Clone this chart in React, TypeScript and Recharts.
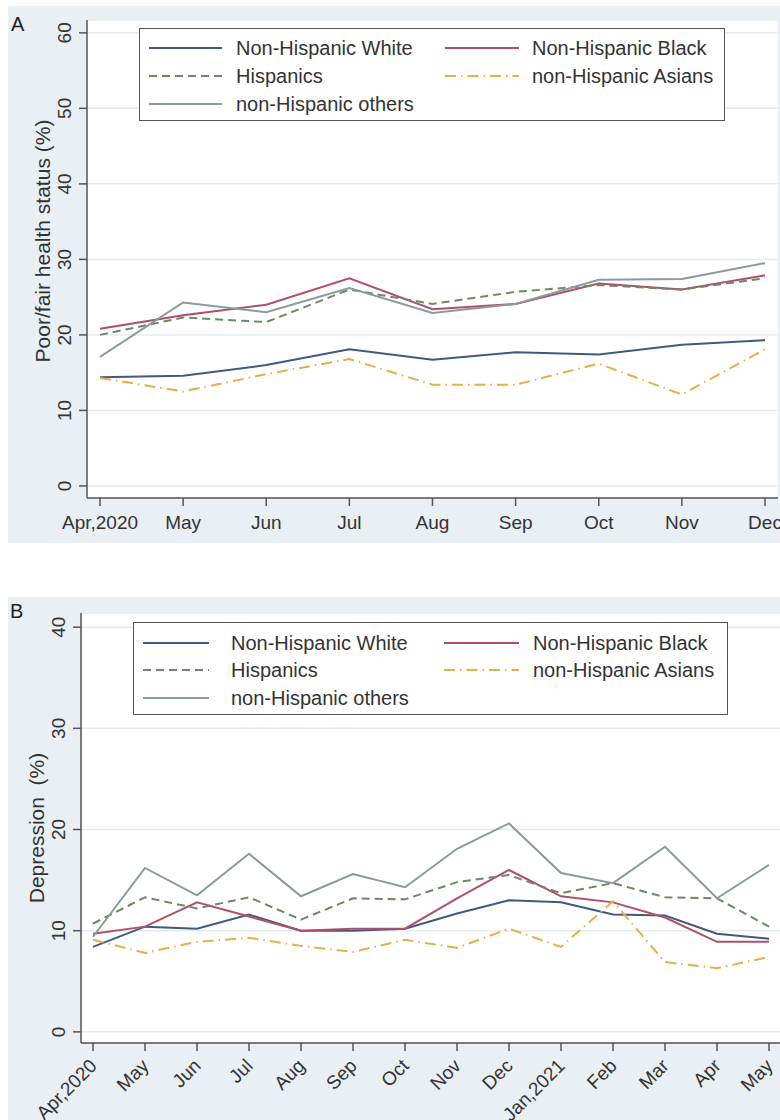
import React from 'react';
import { LineChart, Line, XAxis, YAxis, CartesianGrid, Legend } from 'recharts';

const FONT = '"Liberation Sans", Arial, Helvetica, sans-serif';
const TEXT = '#333';
const PANEL_BG = '#e9eff2';
const GRID = '#e4ebee';
const AXIS = '#555';

// Panel A: poor/fair self-rated health, Apr–Dec 2020
const monthsA = ['Apr,2020', 'May', 'Jun', 'Jul', 'Aug', 'Sep', 'Oct', 'Nov', 'Dec'];
const whiteA = [14.4, 14.6, 16.0, 18.1, 16.7, 17.7, 17.4, 18.7, 19.3];
const blackA = [20.8, 22.6, 24.0, 27.5, 23.4, 24.1, 26.8, 26.0, 27.9];
const hispA = [20.0, 22.3, 21.7, 26.0, 24.1, 25.7, 26.6, 26.0, 27.5];
const asianA = [14.3, 12.5, 14.8, 16.8, 13.4, 13.4, 16.2, 12.1, 18.1];
const othersA = [17.1, 24.3, 23.0, 26.2, 22.9, 24.1, 27.3, 27.4, 29.5];
const ticksA = [0, 10, 20, 30, 40, 50, 60];

// Panel B: depression, Apr 2020 – May 2021
const monthsB = ['Apr,2020', 'May', 'Jun', 'Jul', 'Aug', 'Sep', 'Oct', 'Nov', 'Dec', 'Jan,2021', 'Feb', 'Mar', 'Apr', 'May'];
const whiteB = [8.4, 10.4, 10.2, 11.6, 10.0, 10.0, 10.2, 11.7, 13.0, 12.8, 11.6, 11.5, 9.7, 9.2];
const blackB = [9.7, 10.4, 12.8, 11.4, 10.0, 10.2, 10.2, 13.2, 16.0, 13.4, 12.8, 11.3, 8.9, 8.9];
const hispB = [10.7, 13.3, 12.2, 13.3, 11.1, 13.2, 13.1, 14.8, 15.5, 13.7, 14.7, 13.3, 13.2, 10.4];
const asianB = [9.1, 7.8, 8.9, 9.3, 8.5, 7.9, 9.1, 8.3, 10.2, 8.4, 12.9, 6.9, 6.3, 7.4];
const othersB = [9.4, 16.2, 13.5, 17.6, 13.4, 15.6, 14.3, 18.1, 20.6, 15.7, 14.7, 18.3, 13.2, 16.5];
const ticksB = [0, 10, 20, 30, 40];

const SERIES = [
  { key: 'white', name: 'Non-Hispanic White', color: '#3f5a80', dash: undefined },
  { key: 'black', name: 'Non-Hispanic Black', color: '#b24f68', dash: undefined },
  { key: 'hisp', name: 'Hispanics', color: '#6d8863', dash: '8 5' },
  { key: 'asian', name: 'non-Hispanic Asians', color: '#e9ae48', dash: '11 5 1.5 5' },
  { key: 'others', name: 'non-Hispanic others', color: '#8b9b99', dash: undefined },
];

// legend grid: two columns, three rows
const LEGEND_ROWS = [['white', 'black'], ['hisp', 'asian'], ['others']];

const buildRows = (months, white, black, hisp, asian, others) =>
  months.map((month, i) => ({
    month,
    white: white[i],
    black: black[i],
    hisp: hisp[i],
    asian: asian[i],
    others: others[i],
  }));

const dataA = buildRows(monthsA, whiteA, blackA, hispA, asianA, othersA);
const dataB = buildRows(monthsB, whiteB, blackB, hispB, asianB, othersB);

function LegendBox({ box }) {
  return (
    <div
      style={{
        width: box.width,
        height: box.height,
        boxSizing: 'border-box',
        border: `1.5px solid ${AXIS}`,
        background: '#fff',
        position: 'relative',
        fontFamily: FONT,
        fontSize: 20,
        color: TEXT,
      }}
    >
      {LEGEND_ROWS.map((row, r) =>
        row.map((key, c) => {
          const s = SERIES.find((d) => d.key === key);
          const col = box.cols[c];
          const cy = box.rows[r];
          return (
            <React.Fragment key={key}>
              <svg
                width={col.lineW}
                height={6}
                style={{ position: 'absolute', left: col.line, top: cy - 3 }}
              >
                <line x1={0} y1={3} x2={col.lineW} y2={3} stroke={s.color} strokeWidth={2.2} strokeDasharray={s.dash} />
              </svg>
              <span
                style={{
                  position: 'absolute',
                  left: col.text,
                  top: cy - 12,
                  lineHeight: '24px',
                  whiteSpace: 'nowrap',
                }}
              >
                {s.name}
              </span>
            </React.Fragment>
          );
        })
      )}
    </div>
  );
}

// vertical y tick labels, reading bottom-to-top
const VerticalTick = ({ x, y, payload }) => (
  <text
    x={x - 6}
    y={y}
    transform={`rotate(-90, ${x - 6}, ${y})`}
    textAnchor="middle"
    fontSize={19}
    fontFamily={FONT}
    fill={TEXT}
  >
    {payload.value}
  </text>
);

const SlantTick = ({ x, y, payload }) => (
  <text
    x={x + 5}
    y={y + 14}
    transform={`rotate(-45, ${x + 5}, ${y + 14})`}
    textAnchor="end"
    fontSize={19}
    fontFamily={FONT}
    fill={TEXT}
  >
    {payload.value}
  </text>
);

const axisTitle = (text, shift) => (props) => {
  const vb = props.viewBox || { x: 0, y: 0, width: 80, height: 400 };
  const bx = vb.x + vb.width - 37;
  const cy = vb.y + vb.height / 2 + shift;
  return (
    <text
      x={bx}
      y={cy}
      transform={`rotate(-90, ${bx}, ${cy})`}
      textAnchor="middle"
      fontSize={21}
      fontFamily={FONT}
      fill={TEXT}
      style={{ whiteSpace: 'pre' }}
    >
      {text}
    </text>
  );
};

function Panel({ data, width, height, margin, yWidth, xHeight, xPad, yDomain, yTicks, title, titleShift, slant, legend }) {
  return (
    <LineChart width={width} height={height} data={data} margin={margin} style={{ background: PANEL_BG }}>
      <CartesianGrid vertical={false} stroke={GRID} strokeWidth={1.5} fill="#fff" />
      <XAxis
        dataKey="month"
        interval={0}
        height={xHeight}
        padding={xPad}
        tickSize={8}
        tickMargin={slant ? 2 : 10}
        stroke={AXIS}
        strokeWidth={1.5}
        tick={slant ? <SlantTick /> : { fontSize: 19, fontFamily: FONT, fill: TEXT }}
        tickLine={{ stroke: AXIS, strokeWidth: 1.5 }}
      />
      <YAxis
        type="number"
        domain={yDomain}
        ticks={yTicks}
        allowDataOverflow
        width={yWidth}
        tickSize={8}
        tickMargin={2}
        stroke={AXIS}
        strokeWidth={1.5}
        tick={<VerticalTick />}
        tickLine={{ stroke: AXIS, strokeWidth: 1.5 }}
        label={axisTitle(title, titleShift)}
      />
      <Legend
        layout="horizontal"
        verticalAlign="middle"
        align="center"
        wrapperStyle={{ left: legend.left, top: legend.top, width: legend.width, height: legend.height }}
        content={() => <LegendBox box={legend} />}
      />
      {SERIES.map((s) => (
        <Line
          key={s.key}
          type="linear"
          dataKey={s.key}
          name={s.name}
          stroke={s.color}
          strokeWidth={2}
          strokeDasharray={s.dash}
          dot={false}
          activeDot={false}
          isAnimationActive={false}
        />
      ))}
    </LineChart>
  );
}

export default function App() {
  return (
    <div style={{ position: 'absolute', left: 0, top: 0, width: 780, height: 1120, background: '#fff', fontFamily: FONT }}>
      <div style={{ position: 'absolute', left: 8, top: 6 }}>
        <Panel
          data={dataA}
          width={772}
          height={537}
          margin={{ top: 14, right: 2, bottom: 0, left: 0 }}
          yWidth={79}
          xHeight={45}
          xPad={{ left: 13, right: 13 }}
          yDomain={[-1.6, 61.7]}
          yTicks={ticksA}
          title="Poor/fair health status (%)"
          titleShift={-18}
          slant={false}
          legend={{
            left: 131, top: 22, width: 586, height: 93,
            rows: [19, 47, 75],
            cols: [{ line: 9, lineW: 73, text: 96 }, { line: 305, lineW: 74, text: 392 }],
          }}
        />
      </div>
      <div style={{ position: 'absolute', left: 11, top: 13, fontSize: 20, lineHeight: '22px', color: '#222' }}>A</div>

      <div style={{ position: 'absolute', left: 8, top: 597 }}>
        <Panel
          data={dataB}
          width={772}
          height={523}
          margin={{ top: 16, right: 0, bottom: 0, left: 0 }}
          yWidth={73}
          xHeight={77}
          xPad={{ left: 12, right: 11 }}
          yDomain={[-1.1, 41.4]}
          yTicks={ticksB}
          title={'Depression  (%)'}
          titleShift={0}
          slant
          legend={{
            left: 125, top: 25, width: 595, height: 93,
            rows: [20, 47, 75],
            cols: [{ line: 9, lineW: 66, text: 97 }, { line: 310, lineW: 75, text: 399 }],
          }}
        />
      </div>
      <div style={{ position: 'absolute', left: 10, top: 600, fontSize: 20, lineHeight: '22px', color: '#222' }}>B</div>
    </div>
  );
}
